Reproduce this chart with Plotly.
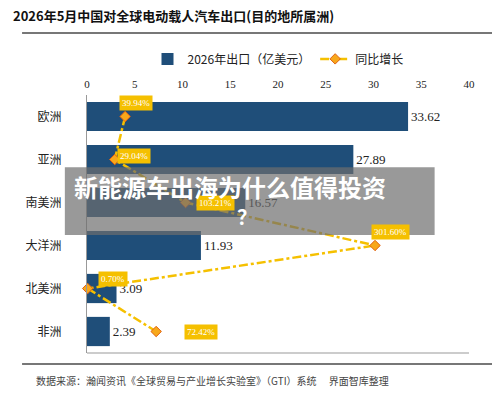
import plotly.graph_objects as go

regions = ["欧洲", "亚洲", "南美洲", "大洋洲", "北美洲", "非洲"]
exports = [33.62, 27.89, 16.57, 11.93, 3.09, 2.39]
growth = [39.94, 29.04, 103.21, 301.60, 0.70, 72.42]
growth_labels = ["39.94%", "29.04%", "103.21%", "301.60%", "0.70%", "72.42%"]

serif = "Liberation Serif, Noto Sans CJK SC"
cjk = "Noto Sans CJK SC"

fig = go.Figure()
fig.add_trace(go.Bar(
    y=regions, x=exports, orientation="h", name="2026年出口（亿美元）",
    marker=dict(color="#1f4e79", line=dict(color="#1f4e79", width=0)),
    text=[f"{v:.2f}" for v in exports], textposition="outside",
    textfont=dict(family=serif, size=13, color="#222"), width=0.68,
    cliponaxis=False,
))
fig.add_trace(go.Scatter(
    y=regions, x=growth, xaxis="x2", name="同比增长", mode="lines+markers",
    line=dict(color="#f5c000", width=2.5, dash="dashdot"),
    marker=dict(symbol="diamond", size=8, color="#f7a81b", line=dict(color="#e06010", width=1)),
    cliponaxis=False,
))

# label boxes for growth values
offsets = [(-6, 14), (2, 4), (10, 0), (-4, 14), (10, 10), (28, 0)]
for r, g, t, (dx, dy) in zip(regions, growth, growth_labels, offsets):
    fig.add_annotation(x=g, y=r, xref="x2", yref="y", text=t, showarrow=False,
                       xanchor="left", xshift=dx, yshift=dy,
                       font=dict(family=serif, size=9, color="white"),
                       bgcolor="#f5c000", borderpad=2)

fig.update_layout(
    width=500, height=402, margin=dict(l=79, r=39, t=87, b=57, autoexpand=False),
    paper_bgcolor="white", plot_bgcolor="white",
    showlegend=True,
    legend=dict(orientation="h", x=0.5, xanchor="center", y=1.14, yanchor="middle",
                font=dict(family=cjk, size=12, color="#222"), itemwidth=30),
    xaxis=dict(range=[0, 40], dtick=5, side="top", showgrid=False, zeroline=False,
               tickfont=dict(family=serif, size=11, color="#222"), showline=False,
               ticks="", ticklabelstandoff=4),
    xaxis2=dict(range=[0, 400], overlaying="x", visible=False),
    yaxis=dict(autorange="reversed", showline=True, linecolor="#999", ticks="",
               tickfont=dict(family=cjk, size=12, color="#222"),
               ticklabelstandoff=22, showgrid=False),
    font=dict(family=cjk),
)
# bottom axis line of plot area
fig.add_shape(type="line", xref="paper", yref="paper", x0=0, x1=1, y0=0, y1=0,
              line=dict(color="#999", width=1))

fig.add_annotation(text="<b>2026年5月中国对全球电动载人汽车出口(目的地所属洲)</b>",
                   xref="paper", yref="paper", x=-0.2, y=1.31, xanchor="left", yanchor="middle",
                   showarrow=False, font=dict(family=cjk, size=13, color="#111"))
fig.add_shape(type="line", xref="paper", yref="paper", x0=-0.17, x1=1.07, y0=1.24, y1=1.24,
              line=dict(color="#777", width=2))
fig.add_shape(type="line", xref="paper", yref="paper", x0=-0.17, x1=1.07, y0=-0.043, y1=-0.043,
              line=dict(color="#777", width=2))
fig.add_annotation(text="数据来源：瀚闻资讯《全球贸易与产业增长实验室》（GTI）系统　 界面智库整理",
                   xref="paper", yref="paper", x=-0.14, y=-0.105, xanchor="left", yanchor="middle",
                   showarrow=False, font=dict(family=cjk, size=10, color="#444"))

# overlay banner
fig.add_shape(type="rect", xref="paper", yref="paper", x0=-0.058, x1=0.91, y0=0.457, y1=0.72,
              fillcolor="rgba(110,110,110,0.7)", line=dict(width=0), layer="above")
fig.add_annotation(text="<b>新能源车出海为什么值得投资</b>", xref="paper", yref="paper",
                   x=0.375, y=0.645, showarrow=False,
                   font=dict(family=cjk, size=24, color="white"))
fig.add_annotation(text="<b>？</b>", xref="paper", yref="paper",
                   x=0.42, y=0.53, showarrow=False,
                   font=dict(family=cjk, size=20, color="white"))

fig.write_html("out.html")
